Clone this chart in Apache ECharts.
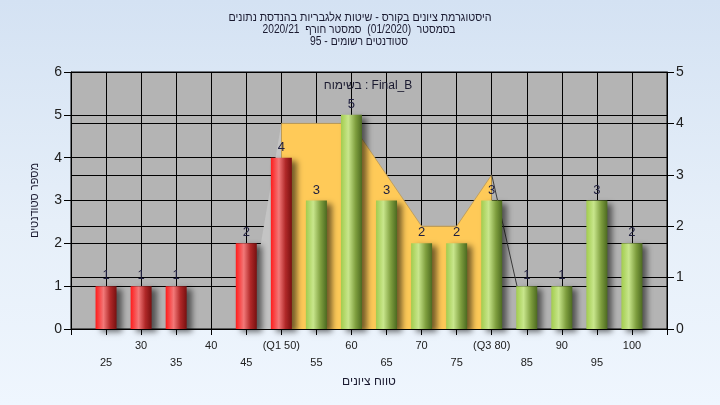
<!DOCTYPE html>
<html>
<head>
<meta charset="utf-8">
<script src="https://cdn.jsdelivr.net/npm/echarts@6/dist/echarts.min.js"></script>
<style>
html,body{margin:0;padding:0;}
#c{width:720px;height:405px;background:linear-gradient(to bottom,#d4e2f3 0%,#e6eff9 55%,#eff6fe 100%);}
</style>
</head>
<body>
<div id="c"></div>
<script>
// ---- data ----
const categories = ['20','25','30','35','40','45','(Q1 50)','55','60','65','70','75','(Q3 80)','85','90','95','100','105'];
const counts     = [null,1,1,1,0,2,4,3,5,3,2,2,3,1,1,3,2,null];
const iqrArea    = [null,null,null,null,null,null,4,4,4,3,2,2,3,null,null,null,null,null];
const leftTail   = [null,null,null,null,null,0,4,null,null,null,null,null,null,null,null,null,null,null];
const rightTail  = [null,null,null,null,null,null,null,null,null,null,null,null,3,0,null,null,null,null];
const leftAxis   = {min:0, max:6, interval:1};
const rightAxis  = {min:0, max:5, interval:1};
const q1Index = 6;
const titleLines = ['היסטוגרמת ציונים בקורס - שיטות אלגבריות בהנדסת נתונים','בסמסטר  (01/2020)  סמסטר חורף  2020/21','סטודנטים רשומים - 95'];
const legendText = 'בשימוח : Final_B';
const xName = 'טווח ציונים';
const yName = 'מספר סטודנטים';

const FONT = 'Liberation Sans, DejaVu Sans, sans-serif';
const chart = echarts.init(document.getElementById('c'), null, {renderer:'canvas'});

// fit title lines to the widths seen in the reference
const mctx = document.createElement('canvas').getContext('2d');
mctx.font = '12px ' + FONT;
function fitScale(text, target){ const w = mctx.measureText(text).width; return w > 0 ? target / w : 1; }
const titleLayout = [
  {x:360, y:18, w:263},
  {x:359, y:30, w:193},
  {x:359, y:42, w:98}
];

const redGrad = new echarts.graphic.LinearGradient(0,0,1,0,[
  {offset:0,color:'#ff1c1c'},{offset:0.38,color:'#f27878'},{offset:0.7,color:'#b02828'},{offset:1,color:'#781010'}]);
const greenGrad = new echarts.graphic.LinearGradient(0,0,1,0,[
  {offset:0,color:'#a2cc4e'},{offset:0.35,color:'#c8e68c'},{offset:0.7,color:'#7e9e3e'},{offset:1,color:'#4c6a20'}]);

const titleGraphics = titleLines.map(function(t,i){
  const L = titleLayout[i];
  return {type:'text',x:L.x,y:L.y,scaleX:fitScale(t,L.w),
    style:{text:t,align:'center',verticalAlign:'middle',font:'12px '+FONT,fill:'#1a1a30'}};
});

chart.setOption({
  backgroundColor:'transparent',
  animation:false,
  textStyle:{fontFamily:FONT},
  graphic:titleGraphics.concat([
    {type:'text',x:368,y:86,z:10,style:{text:legendText,align:'center',verticalAlign:'middle',font:'12px '+FONT,fill:'#1a1a30'}}
  ]),
  grid:{left:71,right:53,top:72,bottom:76,show:true,backgroundColor:'#b4b4b4',borderColor:'#000',borderWidth:1},
  xAxis:{
    type:'category',data:categories,boundaryGap:false,
    name:xName,nameLocation:'middle',nameGap:45,
    nameTextStyle:{fontSize:12,color:'#1a1a30',fontFamily:FONT},
    axisLine:{lineStyle:{color:'#000'}},
    axisTick:{alignWithLabel:true,interval:0,length:6,lineStyle:{color:'#000'}},
    axisLabel:{interval:0,fontSize:11,color:'#202020',margin:8,lineHeight:17,fontFamily:FONT,
      formatter:function(v,i){ if(i===0||i===categories.length-1) return ''; return (i%2===0)?v:'\n'+v; }},
    splitLine:{show:true,interval:0,lineStyle:{color:'#000',width:1}}
  },
  yAxis:[
    {type:'value',min:leftAxis.min,max:leftAxis.max,interval:leftAxis.interval,position:'left',
      name:yName,nameLocation:'middle',nameGap:31,nameRotate:90,
      nameTextStyle:{fontSize:11,color:'#1a1a30',fontFamily:FONT},
      axisLine:{show:true,lineStyle:{color:'#000'}},
      axisTick:{show:true,length:7,lineStyle:{color:'#000'}},
      axisLabel:{fontSize:14,color:'#202020',margin:9,fontFamily:FONT},
      splitLine:{show:true,lineStyle:{color:'#000',width:1}}},
    {type:'value',min:rightAxis.min,max:rightAxis.max,interval:rightAxis.interval,position:'right',
      axisLine:{show:true,lineStyle:{color:'#000'}},
      axisTick:{show:true,length:7,lineStyle:{color:'#000'}},
      axisLabel:{fontSize:14,color:'#202020',margin:9,fontFamily:FONT},
      splitLine:{show:true,lineStyle:{color:'#000',width:1}}}
  ],
  series:[
    {type:'line',yAxisIndex:1,data:leftTail,showSymbol:false,symbol:'none',z:1,
      lineStyle:{width:0},areaStyle:{color:'#c4c4c4',opacity:1}},
    {type:'line',yAxisIndex:1,data:iqrArea,showSymbol:false,symbol:'none',z:1,
      lineStyle:{width:1,color:'#c0a060'},areaStyle:{color:'#ffca58',opacity:1}},
    {type:'line',yAxisIndex:1,data:rightTail,showSymbol:false,symbol:'none',z:1,
      lineStyle:{width:1,color:'#3a3a3a'}},
    {type:'bar',yAxisIndex:0,data:counts,barWidth:21,z:3,
      itemStyle:{color:function(p){return p.dataIndex<=q1Index?redGrad:greenGrad;},
        shadowColor:'rgba(0,0,0,0.55)',shadowBlur:6,shadowOffsetX:5,shadowOffsetY:3},
      label:{show:true,position:'top',distance:4,fontSize:13,color:'#202040',fontFamily:FONT,
        formatter:function(p){return p.value?String(p.value):'';}}}
  ]
});
</script>
</body>
</html>
